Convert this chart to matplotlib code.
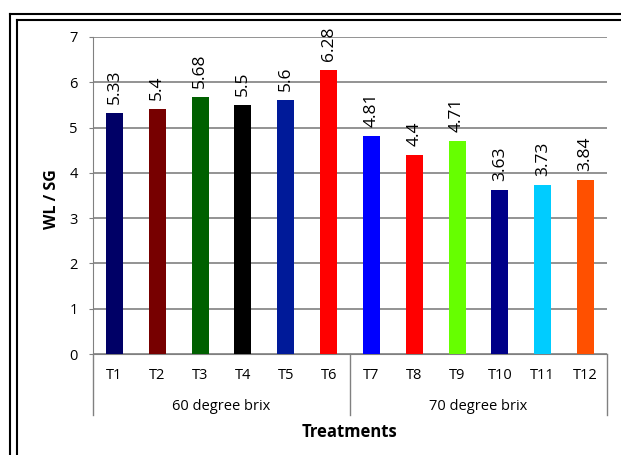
import matplotlib.pyplot as plt
from matplotlib.lines import Line2D

treatments = ["T1", "T2", "T3", "T4", "T5", "T6",
              "T7", "T8", "T9", "T10", "T11", "T12"]
wl_sg = [5.33, 5.4, 5.68, 5.5, 5.6, 6.28, 4.81, 4.4, 4.71, 3.63, 3.73, 3.84]
value_labels = ["5.33", "5.4", "5.68", "5.5", "5.6", "6.28",
                "4.81", "4.4", "4.71", "3.63", "3.73", "3.84"]
groups = ["60 degree brix", "70 degree brix"]
group_size = [6, 6]
bar_colors = ["#000066", "#770000", "#006000", "#000000", "#001a99", "#ff0000",
              "#0000ff", "#ff0000", "#66ff00", "#000088", "#00ccff", "#ff5000"]

plt.rcParams['font.family'] = ['Open Sans', 'DejaVu Sans']

W, H = 621, 455
fig = plt.figure(figsize=(W / 100, H / 100), dpi=100)
ax = fig.add_axes([93 / W, 1 - 354 / H, (607 - 93) / W, (354 - 37) / H])

x = range(len(treatments))
ax.bar(x, wl_sg, width=0.4, color=bar_colors, zorder=3)
for xi, v, lab in zip(x, wl_sg, value_labels):
    ax.text(xi, v + 0.2, lab, rotation=90, ha="center", va="bottom",
            fontsize=12.5, zorder=4)

ax.set_ylim(0, 7)
ax.set_xlim(-0.5, len(treatments) - 0.5)
ax.set_yticks(range(8))
ax.yaxis.grid(True, color="#808080", lw=1.2, zorder=0)
for s in ["top", "right"]:
    ax.spines[s].set_visible(False)
ax.spines["left"].set_color("#808080")
ax.spines["bottom"].set_color("#808080")
ax.tick_params(axis="y", length=3, color="#808080", labelsize=10.5, pad=8)
ax.tick_params(axis="x", length=0, labelsize=10.5, pad=10)
ax.set_xticks(list(x))
ax.set_xticklabels(treatments)
ax.set_ylabel("WL / SG", fontsize=11.5, fontweight="bold")
ax.yaxis.set_label_coords(-0.064, 0.49)

# group separators and group names below the category labels
trans = ax.get_xaxis_transform()
edges = [-0.5]
for n in group_size:
    edges.append(edges[-1] + n)
for e in edges:
    ax.add_line(Line2D([e, e], [0, -61 / 317], transform=trans,
                       color="#808080", lw=1, clip_on=False))
for i, g in enumerate(groups):
    mid = (edges[i] + edges[i + 1]) / 2
    ax.text(mid, -53 / 317, g, transform=trans, ha="center", va="center",
            fontsize=10.5)
ax.text(0.5, -78 / 317, "Treatments", transform=ax.transAxes, ha="center",
        va="center", fontsize=12, fontweight="bold")

# double frame around the chart
for px, py in [(10, 14), (17, 20)]:
    fig.add_artist(Line2D([px / W, 1.02], [1 - py / H, 1 - py / H],
                          transform=fig.transFigure, color="black", lw=1.5))
    fig.add_artist(Line2D([px / W, px / W], [1 - py / H, -0.02],
                          transform=fig.transFigure, color="black", lw=1.5))

fig.savefig("out.png", dpi=100)
